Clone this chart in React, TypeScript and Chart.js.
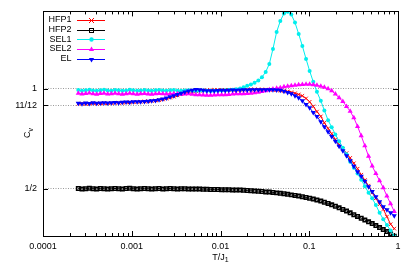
import React, { useEffect, useRef } from "react";
import { Chart, registerables } from "chart.js";
Chart.register(...registerables);

const T = [
  0.00025, 0.000275, 0.000303, 0.000333, 0.000366, 0.000403, 0.000443, 0.000487, 0.000536, 0.000589,
  0.000648, 0.000713, 0.000784, 0.000863, 0.000949, 0.00104, 0.00115, 0.00126, 0.00139, 0.00153,
  0.00168, 0.00185, 0.00203, 0.00224, 0.00246, 0.00271, 0.00298, 0.00328, 0.0036, 0.00396,
  0.00436, 0.0048, 0.00528, 0.0058, 0.00638, 0.00702, 0.00773, 0.0085, 0.00935, 0.0103,
  0.0113, 0.0124, 0.0137, 0.015, 0.0166, 0.0182, 0.02, 0.022, 0.0242, 0.0267,
  0.0293, 0.0323, 0.0355, 0.039, 0.0429, 0.0472, 0.0519, 0.0571, 0.0628, 0.0691,
  0.076, 0.0836, 0.092, 0.101, 0.111, 0.122, 0.135, 0.148, 0.163, 0.179,
  0.197, 0.217, 0.239, 0.263, 0.289, 0.318, 0.35, 0.385, 0.423, 0.466,
  0.512, 0.563, 0.62, 0.682, 0.75, 0.825, 0.907,
];

const HFP1 = [
  0.925, 0.927, 0.924, 0.926, 0.928, 0.926, 0.927, 0.929, 0.928, 0.929, 0.930,
  0.931, 0.930, 0.932, 0.933, 0.934, 0.935, 0.936, 0.937, 0.938, 0.940,
  0.942, 0.944, 0.947, 0.951, 0.956, 0.961, 0.967, 0.973, 0.978, 0.983,
  0.986, 0.989, 0.991, 0.992, 0.993, 0.993, 0.994, 0.994, 0.995, 0.995,
  0.995, 0.996, 0.996, 0.996, 0.996, 0.997, 0.997, 0.997, 0.997, 0.997, 0.996, 0.996, 0.995, 0.994, 0.992,
  0.99, 0.987, 0.983, 0.978, 0.972, 0.965, 0.952, 0.935, 0.912, 0.886,
  0.862, 0.83, 0.802, 0.775, 0.747, 0.72, 0.70, 0.678, 0.654, 0.627,
  0.60, 0.57, 0.543, 0.515, 0.48, 0.452, 0.422, 0.397, 0.36, 0.322, 0.30,
];

const HFP2 = [
  0.501, 0.499, 0.500, 0.502, 0.500, 0.499, 0.501, 0.500, 0.498, 0.500,
  0.501, 0.500, 0.499, 0.501, 0.502, 0.500, 0.499, 0.500, 0.501, 0.500,
  0.499, 0.500, 0.501, 0.499, 0.500, 0.501, 0.500, 0.499, 0.500, 0.500, 0.499,
  0.499, 0.498, 0.498, 0.497, 0.497, 0.496, 0.496, 0.496, 0.495, 0.495,
  0.495, 0.494, 0.494, 0.493, 0.492, 0.491, 0.490, 0.489, 0.487, 0.486,
  0.484, 0.483, 0.481, 0.479, 0.477, 0.475, 0.472, 0.469, 0.466, 0.463,
  0.46, 0.456, 0.452, 0.448, 0.443, 0.438, 0.432, 0.426, 0.419, 0.412,
  0.404, 0.396, 0.388, 0.379, 0.37, 0.361, 0.352, 0.343, 0.334, 0.325,
  0.315, 0.305, 0.295, 0.285, 0.273, 0.262,
];

const SEL1 = [
  0.994, 0.991, 0.993, 0.995, 0.992, 0.990, 0.993, 0.995, 0.992, 0.991,
  0.994, 0.993, 0.990, 0.992, 0.995, 0.993, 0.991, 0.992, 0.994, 0.992,
  0.990, 0.993, 0.994, 0.992, 0.991, 0.993, 0.994, 0.991, 0.990, 0.992,
  0.993, 0.991, 0.989, 0.990, 0.992, 0.991, 0.989, 0.990, 0.991, 0.992,
  0.993, 0.994, 0.995,
  0.998, 1.002, 1.008, 1.015, 1.022, 1.031, 1.042, 1.058, 1.085, 1.125,
  1.2, 1.285, 1.34, 1.378, 1.386, 1.372, 1.332, 1.275, 1.215, 1.15,
  1.09, 1.035, 0.985, 0.94, 0.892, 0.843, 0.808, 0.772, 0.737, 0.705,
  0.672, 0.635, 0.605, 0.576, 0.545, 0.512, 0.48, 0.452, 0.418, 0.38,
  0.347, 0.318, 0.29, 0.262,
];

const SEL2 = [
  0.978, 0.974, 0.977, 0.979, 0.975, 0.973, 0.977, 0.978, 0.974, 0.975,
  0.978, 0.976, 0.973, 0.976, 0.978, 0.975, 0.973, 0.976, 0.977, 0.974,
  0.973, 0.976, 0.977, 0.975, 0.974, 0.976, 0.977, 0.975, 0.973, 0.974,
  0.975, 0.973, 0.971, 0.970, 0.969, 0.968, 0.968, 0.969, 0.970, 0.970, 0.971,
  0.972, 0.974, 0.975, 0.976, 0.976, 0.977, 0.978, 0.98, 0.983, 0.987,
  0.991, 0.995, 0.999, 1.003, 1.006, 1.01, 1.013, 1.016, 1.018, 1.02,
  1.022, 1.023, 1.023, 1.021, 1.018, 1.013, 1.008, 1.0, 0.99, 0.974,
  0.955, 0.937, 0.912, 0.888, 0.855, 0.812, 0.765, 0.715, 0.662, 0.613,
  0.576, 0.54, 0.505, 0.463, 0.425, 0.386,
];

const EL = [
  0.928, 0.926, 0.929, 0.927, 0.930, 0.928, 0.929, 0.931, 0.929, 0.930, 0.932,
  0.931, 0.933, 0.934, 0.933, 0.935, 0.936, 0.935, 0.937, 0.938, 0.940,
  0.942, 0.945, 0.949, 0.954, 0.960, 0.966, 0.972, 0.978, 0.984, 0.989,
  0.993, 0.997, 0.996, 0.993, 0.991, 0.990, 0.991, 0.992, 0.993, 0.992,
  0.993, 0.994, 0.993, 0.994, 0.995, 0.994, 0.995, 0.996, 0.995, 0.996, 0.996, 0.995, 0.995, 0.994,
  0.993, 0.988, 0.982, 0.975, 0.966, 0.955, 0.94, 0.922, 0.905, 0.882,
  0.862, 0.835, 0.81, 0.785, 0.762, 0.738, 0.713, 0.69, 0.665, 0.64,
  0.612, 0.585, 0.562, 0.537, 0.51, 0.486, 0.46, 0.435, 0.41, 0.395, 0.38, 0.365,
];

const SERIES_NAMES = ["HFP1", "HFP2", "SEL1", "SEL2", "EL"];
const SERIES_VALUES = [HFP1, HFP2, SEL1, SEL2, EL];
const COLORS = ["#ff0000", "#000000", "#00eeee", "#ff00ff", "#0000ff"];
const MARKERS = ["crossRot", "rect", "circle", "triangle", "triangleDown"];

const Y_TICKS = [0.5, 11 / 12, 1];
const Y_TICK_LABELS = ["1/2", "11/12", "1"];
const X_MAJOR = [0.0001, 0.001, 0.01, 0.1, 1];
const X_TICK_LABELS = ["0.0001", "0.001", "0.01", "0.1", "1"];
const X_TITLE = "T/J";
const X_TITLE_SUB = "1";
const Y_TITLE = "C";
const Y_TITLE_SUB = "v";

const FONT = "'Liberation Sans', Arial, sans-serif";

function drawMarker(ctx: CanvasRenderingContext2D, kind: string, x: number, y: number, color: string) {
  ctx.save();
  ctx.strokeStyle = color;
  ctx.fillStyle = color;
  ctx.lineWidth = 1;
  ctx.beginPath();
  if (kind === "crossRot") {
    const r = 2.5;
    ctx.moveTo(x - r, y - r); ctx.lineTo(x + r, y + r);
    ctx.moveTo(x - r, y + r); ctx.lineTo(x + r, y - r);
    ctx.stroke();
  } else if (kind === "rect") {
    ctx.strokeRect(x - 2, y - 2, 4, 4);
    ctx.fillRect(x - 0.5, y - 0.5, 1, 1);
  } else if (kind === "circle") {
    ctx.arc(x, y, 2.2, 0, Math.PI * 2);
    ctx.fill();
  } else if (kind === "triangle") {
    ctx.moveTo(x, y - 3); ctx.lineTo(x + 2.6, y + 1.5); ctx.lineTo(x - 2.6, y + 1.5);
    ctx.closePath(); ctx.fill();
  } else if (kind === "triangleDown") {
    ctx.moveTo(x, y + 3); ctx.lineTo(x + 2.6, y - 1.5); ctx.lineTo(x - 2.6, y - 1.5);
    ctx.closePath(); ctx.fill();
  }
  ctx.restore();
}

const decorPlugin = {
  id: "decor",
  afterDraw(chart: any) {
    const ctx: CanvasRenderingContext2D = chart.ctx;
    const { left, right, top, bottom } = chart.chartArea;
    const xs = chart.scales.x;
    const ys = chart.scales.y;
    ctx.save();
    ctx.strokeStyle = "#000";
    ctx.lineWidth = 1;
    ctx.strokeRect(Math.round(left) + 0.5, Math.round(top) + 0.5, Math.round(right - left), Math.round(bottom - top));
    ctx.beginPath();
    for (let d = 0; d < X_MAJOR.length; d++) {
      const base = X_MAJOR[d];
      const px = Math.round(xs.getPixelForValue(base)) + 0.5;
      ctx.moveTo(px, bottom); ctx.lineTo(px, bottom - 5);
      ctx.moveTo(px, top); ctx.lineTo(px, top + 5);
      if (d < X_MAJOR.length - 1) {
        for (let m = 2; m <= 9; m++) {
          const mx = Math.round(xs.getPixelForValue(base * m)) + 0.5;
          ctx.moveTo(mx, bottom); ctx.lineTo(mx, bottom - 3);
          ctx.moveTo(mx, top); ctx.lineTo(mx, top + 3);
        }
      }
    }
    for (const v of Y_TICKS) {
      const py = Math.round(ys.getPixelForValue(v)) + 0.5;
      ctx.moveTo(left, py); ctx.lineTo(left + 5, py);
      ctx.moveTo(right, py); ctx.lineTo(right - 5, py);
    }
    ctx.stroke();

    ctx.font = `9px ${FONT}`;
    ctx.textBaseline = "middle";
    ctx.textAlign = "right";
    for (let i = 0; i < SERIES_NAMES.length; i++) {
      const ly = 20 + i * 9.67;
      ctx.fillStyle = "#000";
      ctx.fillText(SERIES_NAMES[i], 71.5, ly);
      ctx.strokeStyle = COLORS[i];
      ctx.lineWidth = 1;
      ctx.beginPath();
      ctx.moveTo(77, Math.round(ly) + 0.5);
      ctx.lineTo(105, Math.round(ly) + 0.5);
      ctx.stroke();
      drawMarker(ctx, MARKERS[i], 91.5, Math.round(ly) + 0.5, COLORS[i]);
    }

    ctx.fillStyle = "#000";
    ctx.textBaseline = "alphabetic";
    ctx.textAlign = "left";
    ctx.font = `9px ${FONT}`;
    const w1 = ctx.measureText(X_TITLE).width;
    ctx.font = `7px ${FONT}`;
    const w2 = ctx.measureText(X_TITLE_SUB).width;
    const cx = (left + right) / 2;
    const sx = cx - (w1 + w2) / 2;
    ctx.font = `9px ${FONT}`;
    ctx.fillText(X_TITLE, sx, 259.5);
    ctx.font = `7px ${FONT}`;
    ctx.fillText(X_TITLE_SUB, sx + w1, 262);

    ctx.save();
    ctx.translate(30, 133);
    ctx.rotate(-Math.PI / 2);
    ctx.font = `9px ${FONT}`;
    const c1 = ctx.measureText(Y_TITLE).width;
    ctx.font = `7px ${FONT}`;
    const c2 = ctx.measureText(Y_TITLE_SUB).width;
    const st = -(c1 + c2) / 2;
    ctx.font = `9px ${FONT}`;
    ctx.fillText(Y_TITLE, st, 0);
    ctx.font = `7px ${FONT}`;
    ctx.fillText(Y_TITLE_SUB, st + c1, 2.5);
    ctx.restore();

    ctx.restore();
  },
};

export default function App() {
  const ref = useRef<HTMLCanvasElement | null>(null);
  useEffect(() => {
    if (!ref.current) return;
    const pointStyles: any = {
      crossRot: { pointStyle: "crossRot", pointRadius: 2.5, pointBorderWidth: 1, rotation: 0 },
      rect: { pointStyle: "rect", pointRadius: 2.4, pointBorderWidth: 1.6, rotation: 0 },
      circle: { pointStyle: "circle", pointRadius: 2, pointBorderWidth: 0, rotation: 0 },
      triangle: { pointStyle: "triangle", pointRadius: 3, pointBorderWidth: 0, rotation: 0 },
      triangleDown: { pointStyle: "triangle", pointRadius: 3, pointBorderWidth: 0, rotation: 180 },
    };
    const datasets = SERIES_NAMES.map((name, i) => {
      const ps = pointStyles[MARKERS[i]];
      return {
        label: name,
        data: T.map((t, k) => ({ x: t, y: SERIES_VALUES[i][k] })),
        borderColor: COLORS[i],
        borderWidth: 1,
        backgroundColor: MARKERS[i] === "rect" ? "rgba(0,0,0,0)" : COLORS[i],
        pointBackgroundColor: MARKERS[i] === "rect" ? "rgba(0,0,0,0)" : COLORS[i],
        pointBorderColor: COLORS[i],
        pointStyle: ps.pointStyle,
        pointRadius: ps.pointRadius,
        pointBorderWidth: ps.pointBorderWidth,
        pointRotation: ps.rotation,
        tension: 0,
        fill: false,
        order: SERIES_NAMES.length - 1 - i,
      };
    });
    const chart = new Chart(ref.current, {
      type: "line",
      data: { datasets },
      options: {
        animation: false,
        responsive: true,
        maintainAspectRatio: false,
        events: [],
        layout: { padding: { top: 11, right: 17, left: 0, bottom: 0 } },
        plugins: { legend: { display: false }, tooltip: { enabled: false } },
        scales: {
          x: {
            type: "logarithmic",
            min: 0.0001,
            max: 1,
            afterBuildTicks: (scale: any) => {
              scale.ticks = X_MAJOR.map((v) => ({ value: v }));
            },
            afterFit: (scale: any) => {
              scale.height = 41;
            },
            ticks: {
              autoSkip: false,
              maxRotation: 0,
              padding: 5,
              color: "#000",
              font: { family: FONT, size: 9 },
              callback: (_v: any, idx: number) => X_TICK_LABELS[idx],
            },
            grid: { display: false, drawTicks: false },
            border: { display: false },
          },
          y: {
            type: "linear",
            min: 0.263,
            max: 1.388,
            afterBuildTicks: (scale: any) => {
              scale.ticks = Y_TICKS.map((v) => ({ value: v }));
            },
            afterFit: (scale: any) => {
              scale.width = 43;
            },
            ticks: {
              autoSkip: false,
              padding: 6,
              color: "#000",
              font: { family: FONT, size: 9 },
              callback: (_v: any, idx: number) => Y_TICK_LABELS[idx],
            },
            grid: { display: true, drawTicks: false, color: "#9a9a9a", lineWidth: 1 },
            border: { display: false, dash: [1, 1.5] },
          },
        },
      },
      plugins: [decorPlugin],
    });
    return () => chart.destroy();
  }, []);
  return (
    <div style={{ position: "absolute", left: 0, top: 0, width: 415, height: 277, background: "#fff" }}>
      <canvas ref={ref} />
    </div>
  );
}
